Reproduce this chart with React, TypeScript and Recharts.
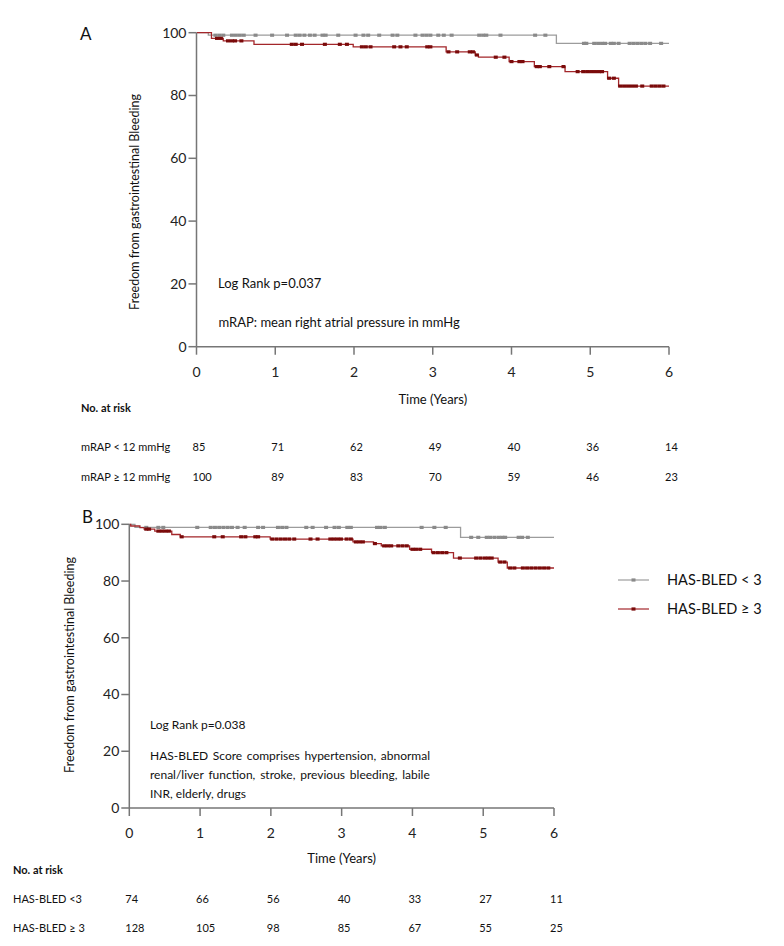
import React, { useMemo } from "react";
import { ComposedChart, Line, Scatter, XAxis, YAxis } from "recharts";

// ---------- data ----------
const xTicks = [0, 1, 2, 3, 4, 5, 6];
const yTicks = [0, 20, 40, 60, 80, 100];

// Panel A: step curves (time in years, survival %)
const aLowTimes = [0, 0.15, 4.57, 6];
const aLowVals = [100, 99.2, 96.6, 96.6];
const aHighTimes = [0, 0.19, 0.34, 0.73, 1.99, 3.17, 3.54, 3.58, 3.97, 4.29, 4.68, 5.22, 5.36, 6];
const aHighVals = [100, 98.2, 97.4, 96.3, 95.5, 93.9, 92.9, 92.2, 90.8, 89.2, 87.6, 85.5, 83.0, 83.0];
const aLowCensor = [0.24, 0.29, 0.34, 0.45, 0.5, 0.55, 0.6, 0.75, 0.96, 1.15, 1.26, 1.31, 1.37, 1.44, 1.5, 1.6, 1.64, 1.8, 2.02, 2.12, 2.18, 2.32, 2.49, 2.55, 2.78, 2.87, 2.92, 2.97, 3.07, 3.14, 3.24, 3.59, 3.64, 3.68, 3.86, 4.3, 4.43, 4.92, 4.95, 5.05, 5.1, 5.15, 5.19, 5.26, 5.3, 5.36, 5.5, 5.55, 5.6, 5.65, 5.7, 5.76, 5.9];
const aHighCensor = [0.26, 0.31, 0.4, 0.45, 0.49, 0.57, 1.21, 1.26, 1.34, 1.63, 1.82, 1.91, 2.1, 2.15, 2.21, 2.51, 2.59, 2.67, 2.93, 2.97, 3.2, 3.31, 3.47, 3.51, 3.56, 3.8, 3.91, 4.0, 4.1, 4.14, 4.32, 4.36, 4.48, 4.66, 4.84, 4.91, 4.96, 5.01, 5.06, 5.11, 5.15, 5.24, 5.3, 5.38, 5.43, 5.48, 5.53, 5.58, 5.66, 5.78, 5.83, 5.88, 5.93];

// Panel B
const bLowTimes = [0, 0.08, 4.68, 6];
const bLowVals = [100, 98.9, 95.4, 95.4];
const bHighTimes = [0, 0.02, 0.15, 0.21, 0.36, 0.6, 0.72, 1.99, 3.16, 3.45, 3.56, 3.96, 4.27, 4.58, 5.21, 5.34, 6];
const bHighVals = [100, 99.4, 98.8, 98.3, 97.6, 96.4, 95.6, 94.8, 93.8, 93.2, 92.4, 91.2, 90.0, 88.1, 86.7, 84.6, 84.6];
const bLowCensor = [0.24, 0.41, 0.48, 0.96, 1.15, 1.21, 1.27, 1.33, 1.39, 1.45, 1.53, 1.63, 1.82, 1.89, 2.1, 2.16, 2.22, 2.5, 2.59, 2.78, 2.9, 2.96, 3.08, 3.13, 3.5, 3.55, 3.61, 4.13, 4.31, 4.47, 4.83, 4.93, 5.05, 5.1, 5.16, 5.22, 5.27, 5.31, 5.5, 5.55, 5.63];
const bHighCensor = [0.24, 0.28, 0.41, 0.46, 0.51, 0.56, 0.74, 1.2, 1.32, 1.58, 1.64, 1.78, 1.82, 2.02, 2.08, 2.14, 2.2, 2.26, 2.33, 2.56, 2.66, 2.84, 2.89, 2.94, 2.99, 3.07, 3.13, 3.2, 3.25, 3.3, 3.47, 3.6, 3.65, 3.7, 3.8, 3.86, 3.92, 4.0, 4.05, 4.11, 4.3, 4.36, 4.42, 4.48, 4.67, 4.9, 4.96, 5.02, 5.07, 5.12, 5.24, 5.3, 5.38, 5.44, 5.56, 5.62, 5.68, 5.74, 5.8, 5.86, 5.92];

// Numbers at risk
const riskTimes = [0, 1, 2, 3, 4, 5, 6];
const riskALow = [85, 71, 62, 49, 40, 36, 14];
const riskAHigh = [100, 89, 83, 70, 59, 46, 23];
const riskBLow = [74, 66, 56, 40, 33, 27, 11];
const riskBHigh = [128, 105, 98, 85, 67, 55, 25];

const rowLabelsA = ["mRAP < 12 mmHg", "mRAP \u2265 12 mmHg"];
const rowLabelsB = ["HAS-BLED <3", "HAS-BLED \u2265 3"];
const legendLabels = ["HAS-BLED < 3", "HAS-BLED \u2265 3"];

const paragraphB = [
  "HAS-BLED Score comprises hypertension, abnormal",
  "renal/liver function, stroke, previous bleeding, labile",
  "INR, elderly, drugs",
];

// ---------- helpers ----------
const FONT = "Lato, 'Open Sans', sans-serif";
const GRAY_LINE = "#9c9c9c";
const GRAY_MARK = "#8a8a8a";
const RED_LINE = "#a3262a";
const RED_MARK = "#7a0a0a";
const AXIS = "#767676";

const toSeries = (times: number[], vals: number[]) => times.map((t, i) => ({ t, v: vals[i] }));
const stepAt = (times: number[], vals: number[], t: number) => {
  let v = vals[0];
  for (let i = 0; i < times.length; i++) if (times[i] <= t) v = vals[i];
  return v;
};
const toCensor = (cens: number[], times: number[], vals: number[]) =>
  cens.map((t) => ({ t, v: stepAt(times, vals, t) }));

const markShape = (color: string) => (props: any) => (
  <rect x={props.cx - 2} y={props.cy - 1.6} width={4} height={3.2} fill={color} />
);

const tickStyle = { fontFamily: FONT, fontSize: 14, fill: "#222" };

function KM(props: {
  width: number;
  height: number;
  margin: any;
  low: { t: number; v: number }[];
  high: { t: number; v: number }[];
  lowC: { t: number; v: number }[];
  highC: { t: number; v: number }[];
}) {
  const { width, height, margin, low, high, lowC, highC } = props;
  return (
    <ComposedChart width={width} height={height} margin={margin}>
      <XAxis
        dataKey="t"
        type="number"
        domain={[0, 6]}
        ticks={xTicks}
        allowDataOverflow
        height={30}
        tickSize={8}
        tickMargin={12}
        axisLine={{ stroke: AXIS, strokeWidth: 1.5 }}
        tickLine={{ stroke: AXIS, strokeWidth: 1.5 }}
        tick={tickStyle}
      />
      <YAxis
        dataKey="v"
        type="number"
        domain={[0, 100]}
        ticks={yTicks}
        width={50}
        tickSize={8}
        tickMargin={2}
        axisLine={{ stroke: AXIS, strokeWidth: 1.5 }}
        tickLine={{ stroke: AXIS, strokeWidth: 1.5 }}
        tick={tickStyle}
      />
      <Line data={low} dataKey="v" type="stepAfter" stroke={GRAY_LINE} strokeWidth={1.3} dot={false} isAnimationActive={false} />
      <Line data={high} dataKey="v" type="stepAfter" stroke={RED_LINE} strokeWidth={1.3} dot={false} isAnimationActive={false} />
      <Scatter data={lowC} dataKey="v" shape={markShape(GRAY_MARK)} isAnimationActive={false} />
      <Scatter data={highC} dataKey="v" shape={markShape(RED_MARK)} isAnimationActive={false} />
    </ComposedChart>
  );
}

function JustifiedLine({ text, x, y, width, size }: { text: string; x: number; y: number; width: number; size: number }) {
  const ws = useMemo(() => {
    try {
      const c = document.createElement("canvas").getContext("2d");
      if (!c) return 0;
      c.font = `${size}px Lato`;
      const w = c.measureText(text).width;
      const n = (text.match(/ /g) || []).length;
      return n > 0 ? (width - w) / n : 0;
    } catch (e) {
      return 0;
    }
  }, [text, width, size]);
  return (
    <text x={x} y={y} fontSize={size} wordSpacing={ws} fill="#111">
      {text}
    </text>
  );
}

export default function App() {
  // Panel A plot geometry
  const aLeft = 196.5, aRight = 669;
  const bLeft = 129.3, bRight = 554;
  const aStep = (aRight - aLeft) / 6;
  const bStep = (bRight - bLeft) / 6;

  return (
    <div style={{ position: "absolute", left: 0, top: 0, width: 784, height: 946, background: "#fff", fontFamily: FONT }}>
      <div style={{ position: "absolute", left: 0, top: 0 }}>
        <KM
          width={784}
          height={420}
          margin={{ top: 32.7, right: 784 - aRight, bottom: 43.3, left: aLeft - 50 }}
          low={toSeries(aLowTimes, aLowVals)}
          high={toSeries(aHighTimes, aHighVals)}
          lowC={toCensor(aLowCensor, aLowTimes, aLowVals)}
          highC={toCensor(aHighCensor, aHighTimes, aHighVals)}
        />
      </div>
      <div style={{ position: "absolute", left: 0, top: 440 }}>
        <KM
          width={784}
          height={460}
          margin={{ top: 84.3, right: 784 - bRight, bottom: 62, left: bLeft - 50 }}
          low={toSeries(bLowTimes, bLowVals)}
          high={toSeries(bHighTimes, bHighVals)}
          lowC={toCensor(bLowCensor, bLowTimes, bLowVals)}
          highC={toCensor(bHighCensor, bHighTimes, bHighVals)}
        />
      </div>
      <svg
        width={784}
        height={946}
        style={{ position: "absolute", left: 0, top: 0, pointerEvents: "none" }}
        fontFamily={FONT}
      >
        {/* Panel A annotations */}
        <text x={80} y={40} fontSize={17} fill="#111">A</text>
        <text transform="translate(139,202) rotate(-90)" textAnchor="middle" fontSize={12.5} fill="#111">
          Freedom from gastrointestinal Bleeding
        </text>
        <text x={218} y={288} fontSize={13} fill="#111">Log Rank p=0.037</text>
        <text x={218.5} y={327} fontSize={13} fill="#111">mRAP: mean right atrial pressure in mmHg</text>
        <text x={(aLeft + aRight) / 2} y={404} fontSize={13} textAnchor="middle" fill="#111">Time (Years)</text>
        <text x={81} y={412} fontSize={11} fontWeight="bold" fill="#111">No. at risk</text>
        <text x={81} y={451} fontSize={11} fill="#111">{rowLabelsA[0]}</text>
        <text x={81} y={481} fontSize={11} fill="#111">{rowLabelsA[1]}</text>
        {riskTimes.map((t, i) => (
          <text key={"al" + i} x={aLeft - 4 + t * aStep} y={451} fontSize={11} fill="#111">{riskALow[i]}</text>
        ))}
        {riskTimes.map((t, i) => (
          <text key={"ah" + i} x={aLeft - 4 + t * aStep} y={481} fontSize={11} fill="#111">{riskAHigh[i]}</text>
        ))}

        {/* Panel B annotations */}
        <text x={82} y={523} fontSize={17} fill="#111">B</text>
        <text transform="translate(74,665) rotate(-90)" textAnchor="middle" fontSize={12.5} fill="#111">
          Freedom from gastrointestinal Bleeding
        </text>
        <text x={150} y={729} fontSize={12} fill="#111">Log Rank p=0.038</text>
        <JustifiedLine text={paragraphB[0]} x={150} y={760} width={280} size={12} />
        <JustifiedLine text={paragraphB[1]} x={150} y={779} width={280} size={12} />
        <text x={150} y={798} fontSize={12} fill="#111">{paragraphB[2]}</text>
        <text x={(bLeft + bRight) / 2} y={863} fontSize={13} textAnchor="middle" fill="#111">Time (Years)</text>
        <text x={13} y={874} fontSize={11} fontWeight="bold" fill="#111">No. at risk</text>
        <text x={13} y={903} fontSize={11} fill="#111">{rowLabelsB[0]}</text>
        <text x={13} y={932} fontSize={11} fill="#111">{rowLabelsB[1]}</text>
        {riskTimes.map((t, i) => (
          <text key={"bl" + i} x={bLeft - 4 + t * bStep} y={903} fontSize={11} fill="#111">{riskBLow[i]}</text>
        ))}
        {riskTimes.map((t, i) => (
          <text key={"bh" + i} x={bLeft - 4 + t * bStep} y={932} fontSize={11} fill="#111">{riskBHigh[i]}</text>
        ))}

        {/* Legend */}
        <line x1={618} x2={649} y1={580} y2={580} stroke={GRAY_LINE} strokeWidth={1.2} />
        <rect x={631.5} y={578.4} width={4} height={3.2} fill={GRAY_MARK} />
        <text x={667} y={585} fontSize={14.5} fill="#111">{legendLabels[0]}</text>
        <line x1={618} x2={649} y1={609} y2={609} stroke={RED_LINE} strokeWidth={1.2} />
        <rect x={631.5} y={607.4} width={4} height={3.2} fill={RED_MARK} />
        <text x={667} y={614} fontSize={14.5} fill="#111">{legendLabels[1]}</text>
      </svg>
    </div>
  );
}
